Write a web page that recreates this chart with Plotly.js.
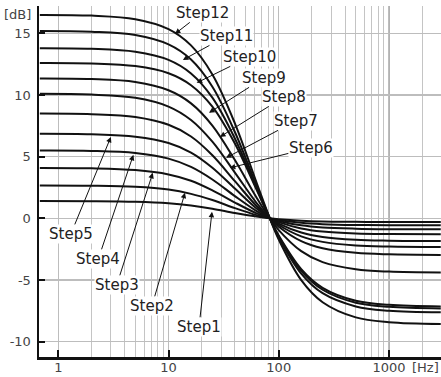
<!DOCTYPE html>
<html>
<head>
<meta charset="utf-8">
<script src="https://cdn.plot.ly/plotly-3.0.1.min.js"></script>
<style>html,body{margin:0;padding:0;background:#fff;}#chart{width:441px;height:377px;}</style>
</head>
<body>
<div id="chart"></div>
<script>
// Frequencies (Hz) at which curve values were read
const freq = [0.68, 2, 5, 10, 16, 25, 40, 63, 83, 100, 160, 250, 500, 1000, 2950];
// Response of each step (dB)
const step1  = [1.40, 1.39, 1.34, 1.22, 1.04, 0.78, 0.43, 0.14, 0, -0.07, -0.19, -0.25, -0.28, -0.30, -0.30];
const step2  = [2.67, 2.65, 2.56, 2.33, 1.98, 1.48, 0.83, 0.26, 0, -0.14, -0.36, -0.47, -0.54, -0.56, -0.57];
const step3  = [4.08, 4.05, 3.91, 3.56, 3.05, 2.27, 1.28, 0.40, 0, -0.21, -0.57, -0.74, -0.84, -0.88, -0.89];
const step4  = [5.49, 5.46, 5.29, 4.84, 4.17, 3.15, 1.80, 0.58, 0, -0.31, -0.82, -1.07, -1.23, -1.28, -1.30];
const step5  = [6.85, 6.81, 6.62, 6.11, 5.33, 4.10, 2.41, 0.79, 0, -0.43, -1.15, -1.51, -1.74, -1.81, -1.84];
const step6  = [8.49, 8.44, 8.21, 7.58, 6.63, 5.11, 3.01, 0.99, 0, -0.54, -1.46, -1.91, -2.20, -2.29, -2.33];
const step7  = [10.09, 10.03, 9.77, 9.06, 7.97, 6.21, 3.71, 1.24, 0, -0.68, -1.85, -2.43, -2.80, -2.92, -2.97];
const step8  = [11.34, 11.29, 11.05, 10.38, 9.32, 7.52, 4.72, 1.67, 0, -0.95, -2.66, -3.55, -4.13, -4.32, -4.39];
const step9  = [12.59, 12.55, 12.34, 11.76, 10.79, 9.05, 6.06, 2.31, 0, -1.40, -4.12, -5.63, -6.68, -7.01, -7.14];
const step10 = [13.79, 13.74, 13.50, 12.84, 11.74, 9.78, 6.47, 2.42, 0, -1.47, -4.26, -5.79, -6.84, -7.17, -7.30];
const step11 = [15.19, 15.13, 14.86, 14.10, 12.87, 10.67, 7.00, 2.60, 0, -1.55, -4.48, -6.07, -7.14, -7.49, -7.62];
const step12 = [16.49, 16.43, 16.14, 15.34, 14.02, 11.66, 7.70, 2.88, 0, -1.72, -5.01, -6.80, -8.03, -8.42, -8.56];

const steps = [step1, step2, step3, step4, step5, step6, step7, step8, step9, step10, step11, step12];
const stepNames = ['Step1','Step2','Step3','Step4','Step5','Step6','Step7','Step8','Step9','Step10','Step11','Step12'];

// Where each label's arrow points (Hz, dB)
const tipFreq = [24.8, 14.1, 7.2, 4.8, 3.0, 36, 33.2, 29.3, 23.3, 18.0, 13.5, 11.45];
const tipDb   = [0.53, 2.07, 3.69, 5.15, 6.60, 4.09, 4.90, 6.60, 8.55, 10.98, 12.84, 14.95];

const xTickVals = [1, 10, 100, 1000];
const xTickText = ['1', '10', '100', '1000'];
const yTickVals = [-10, -5, 0, 5, 10, 15];
const yTickText = ['-10', '-5', '0', '5', '10', '15'];
const minorMult = [2, 3, 4, 5, 6, 7, 8, 9];
const minorDecades = [1, 10, 100];
const minorVals = [];
minorDecades.forEach(d => minorMult.forEach(m => minorVals.push(d * m)));
minorVals.push(2000);

// label text offsets (px) relative to arrow tip
const labelAx = [-13, -33, -36, -35, -40, 81, 70, 64, 55, 53, 44, 27];
const labelAy = [115, 113, 112, 104, 97, -20, -37, -40, -35, -26, -24, -21];

const traces = steps.map((s, i) => ({
  x: freq, y: s, type: 'scatter', mode: 'lines',
  line: {color: '#111', width: 2, shape: 'spline', smoothing: 1},
  name: stepNames[i], hoverinfo: 'skip'
}));

const annotations = stepNames.map((n, i) => ({
  x: Math.log10(tipFreq[i]), y: tipDb[i], xref: 'x', yref: 'y',
  text: n, showarrow: true, arrowhead: 2, arrowsize: 1.1, arrowwidth: 1,
  arrowcolor: '#111', ax: labelAx[i], ay: labelAy[i],
  bgcolor: '#fff', borderpad: 0, standoff: 0,
  font: {family: 'DejaVu Sans', size: 15, color: '#222'}
}));
annotations.push({xref: 'paper', yref: 'paper', x: -0.015, y: 0.977, xanchor: 'right', yanchor: 'middle',
  text: '[dB]', showarrow: false, font: {family: 'DejaVu Sans', size: 13, color: '#444'}});
annotations.push({xref: 'paper', yref: 'paper', x: 0.9614, y: -0.0285, xanchor: 'center', yanchor: 'middle',
  text: '[Hz]', showarrow: false, font: {family: 'DejaVu Sans', size: 13, color: '#444'}});

const layout = {
  width: 441, height: 377,
  margin: {l: 39, r: 0, t: 6, b: 20},
  paper_bgcolor: '#fff', plot_bgcolor: '#fff',
  showlegend: false,
  xaxis: {
    type: 'log', range: [-0.175, 3.472],
    tickvals: xTickVals, ticktext: xTickText,
    ticks: 'inside', ticklen: 7, tickwidth: 2, tickcolor: '#111',
    showline: true, linewidth: 2.5, linecolor: '#111',
    showgrid: true, gridcolor: '#bdbdbd', gridwidth: 1,
    minor: {tickvals: minorVals, showgrid: true, gridcolor: '#c4c4c4', gridwidth: 1, ticks: ''},
    zeroline: false, ticklabelstandoff: -3,
    tickfont: {family: 'DejaVu Sans', size: 13, color: '#444'}
  },
  yaxis: {
    range: [-11.24, 17.21],
    tickvals: yTickVals, ticktext: yTickText,
    ticks: 'inside', ticklen: 6, tickwidth: 2, tickcolor: '#111',
    showline: true, linewidth: 2.5, linecolor: '#111',
    showgrid: true, gridcolor: '#bdbdbd', gridwidth: 1.3,
    zeroline: false, ticklabelstandoff: 3,
    tickfont: {family: 'DejaVu Sans', size: 13, color: '#444'}
  },
  shapes: [{type: 'line', xref: 'x', yref: 'paper', x0: xTickVals[3], x1: xTickVals[3], y0: 0, y1: 1,
    line: {color: '#777', width: 1.2}, layer: 'below'}],
  annotations: annotations
};

Plotly.newPlot('chart', traces, layout, {displayModeBar: false, staticPlot: true});
</script>
</body>
</html>
